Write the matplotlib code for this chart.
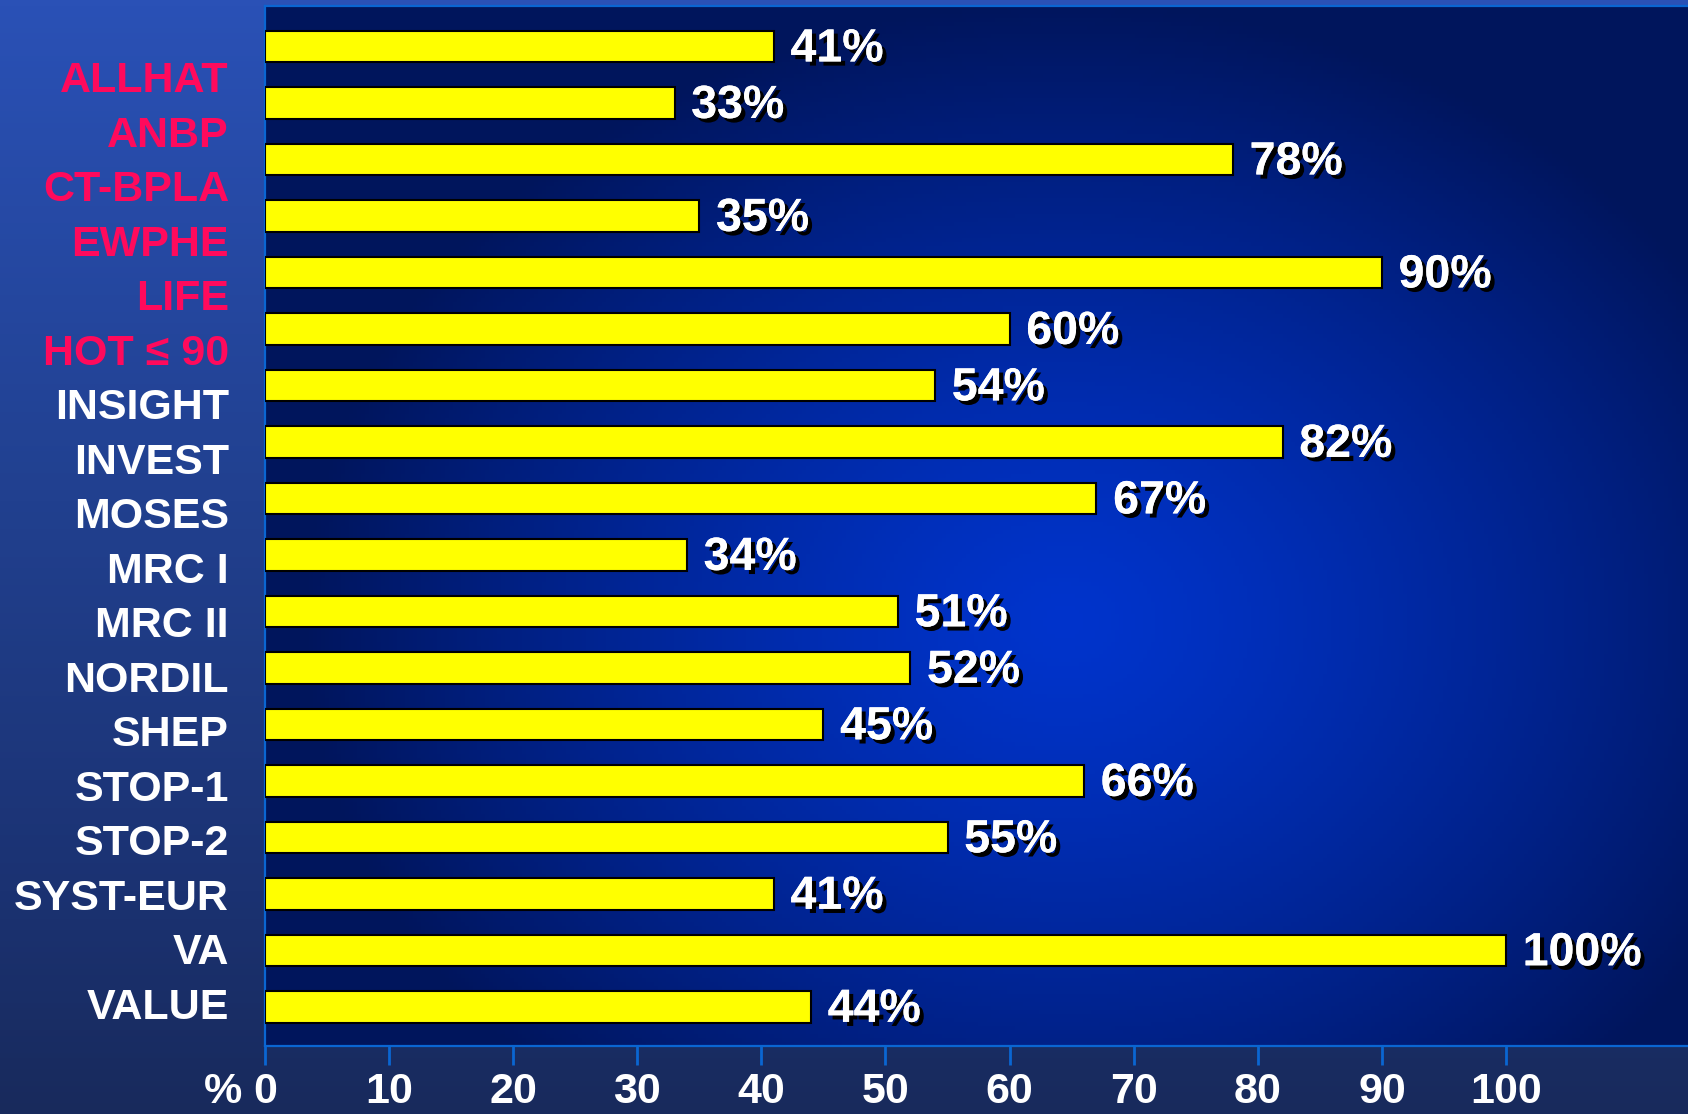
#!/usr/bin/env python
# -*- coding: utf-8 -*-

'''
Gráfico de barras horizontais: percentual por estudo clínico,
com fundo azul em degradê e rótulos de valor com sombra.
'''

import numpy as np
import matplotlib
matplotlib.use("Agg")
import matplotlib.pyplot as plt
import matplotlib.patheffects as pe
from matplotlib.colors import to_rgb

# dados
estudos = ["ALLHAT", "ANBP", "CT-BPLA", "EWPHE", "LIFE", "HOT \u2264 90",
           "INSIGHT", "INVEST", "MOSES", "MRC I", "MRC II", "NORDIL",
           "SHEP", "STOP-1", "STOP-2", "SYST-EUR", "VA", "VALUE"]
valores = [41, 33, 78, 35, 90, 60, 54, 82, 67, 34, 51, 52, 45, 66, 55, 41,
           100, 44]
n_destaque = 6  # os primeiros estudos aparecem em vermelho
x_ticks = [0, 10, 20, 30, 40, 50, 60, 70, 80, 90, 100]

FONTE = ["Liberation Sans", "DejaVu Sans"]
AZUL_EIXO = "#0a66d2"
VERMELHO = "#ff0a5c"
AMARELO = "#ffff00"

W, H = 1688, 1114


def degrade_vertical(h, w, cores):
    # cores: lista de (posição, cor) de cima para baixo
    pos = np.linspace(0, 1, h)
    img = np.zeros((h, w, 3))
    for c in range(3):
        col = np.interp(pos, [p for p, _ in cores],
                        [to_rgb(k)[c] for _, k in cores])
        img[:, :, c] = col[:, None]
    return img


def degrade_radial(h, w, cx, cy, rx, ry, centro, borda):
    yy, xx = np.mgrid[0:h, 0:w]
    r = np.sqrt(((xx - cx) / rx) ** 2 + ((yy - cy) / ry) ** 2)
    t = np.clip(r, 0, 1) ** 1.3
    c0 = np.array(to_rgb(centro))
    c1 = np.array(to_rgb(borda))
    return c0 * (1 - t[..., None]) + c1 * t[..., None]


fig = plt.figure(figsize=(W / 100, H / 100), dpi=100)

# fundo geral
bg = fig.add_axes([0, 0, 1, 1])
bg.axis("off")
bg.imshow(degrade_vertical(200, 2, [(0, "#2a51b6"), (0.45, "#21408f"),
                                    (0.8, "#1b3272"), (1, "#182a5c")]),
          aspect="auto", extent=(0, 1, 0, 1), zorder=0)

# área do gráfico
esq, topo, base = 265, 6, 1046
pos = [esq / W, (H - base) / H, 1 - esq / W, (base - topo) / H]

fundo = fig.add_axes(pos)
fundo.axis("off")
hh, ww = (base - topo) // 4, (W - esq) // 4
fundo.imshow(degrade_radial(hh, ww, (1060 - esq) / 4, (620 - topo) / 4,
                            760 / 4, 620 / 4, "#0034cc", "#00155c"),
             aspect="auto", extent=(0, 1, 0, 1))

ax = fig.add_axes(pos)
ax.patch.set_visible(False)
y = np.arange(len(valores))
ax.barh(y, valores, height=0.56, color=AMARELO, edgecolor="black",
        linewidth=1.5, zorder=3)
ax.set_xlim(0, (W - esq) / 12.41)
ax.set_ylim(17.69, -0.72)

# rótulos de valor com sombra
sombra = [pe.withSimplePatchShadow(offset=(3, -3),
                                   shadow_rgbFace="black", alpha=1.0),
          pe.Normal()]
for i, v in enumerate(valores):
    ax.annotate(f"{v}%", xy=(v, i), xytext=(12, -2),
                textcoords="offset points", ha="left", va="center",
                fontsize=33.5, fontweight="bold", color="white",
                family=FONTE, path_effects=sombra, zorder=4)

# eixo x
ax.set_xticks(x_ticks)
ax.set_xticklabels([str(t) for t in x_ticks], family=FONTE,
                   fontweight="bold")
ax.tick_params(axis="x", direction="out", length=14, width=2,
               color=AZUL_EIXO, pad=5, labelsize=31, labelcolor="white")
ax.set_yticks([])
ax.annotate("%", xy=(0, 0), xycoords="axes fraction", xytext=(-16.5, -19),
            textcoords="offset points", ha="right", va="top", fontsize=31,
            fontweight="bold", color="white", family=FONTE)
for lado in ["left", "bottom", "top"]:
    ax.spines[lado].set_color(AZUL_EIXO)
    ax.spines[lado].set_linewidth(1.6)
ax.spines["right"].set_visible(False)

# nomes dos estudos (eixo próprio, espaçamento ligeiramente diferente)
nomes = fig.add_axes(pos)
nomes.patch.set_visible(False)
for lado in nomes.spines:
    nomes.spines[lado].set_visible(False)
nomes.set_xticks([])
nomes.set_ylim(17.785, -1.297)
nomes.set_yticks(y)
nomes.set_yticklabels(estudos, family=FONTE, fontweight="bold")
nomes.tick_params(axis="y", length=0, pad=26, labelsize=31)
for i, lab in enumerate(nomes.get_yticklabels()):
    lab.set_color(VERMELHO if i < n_destaque else "white")

fig.savefig("out.png", dpi=100)
